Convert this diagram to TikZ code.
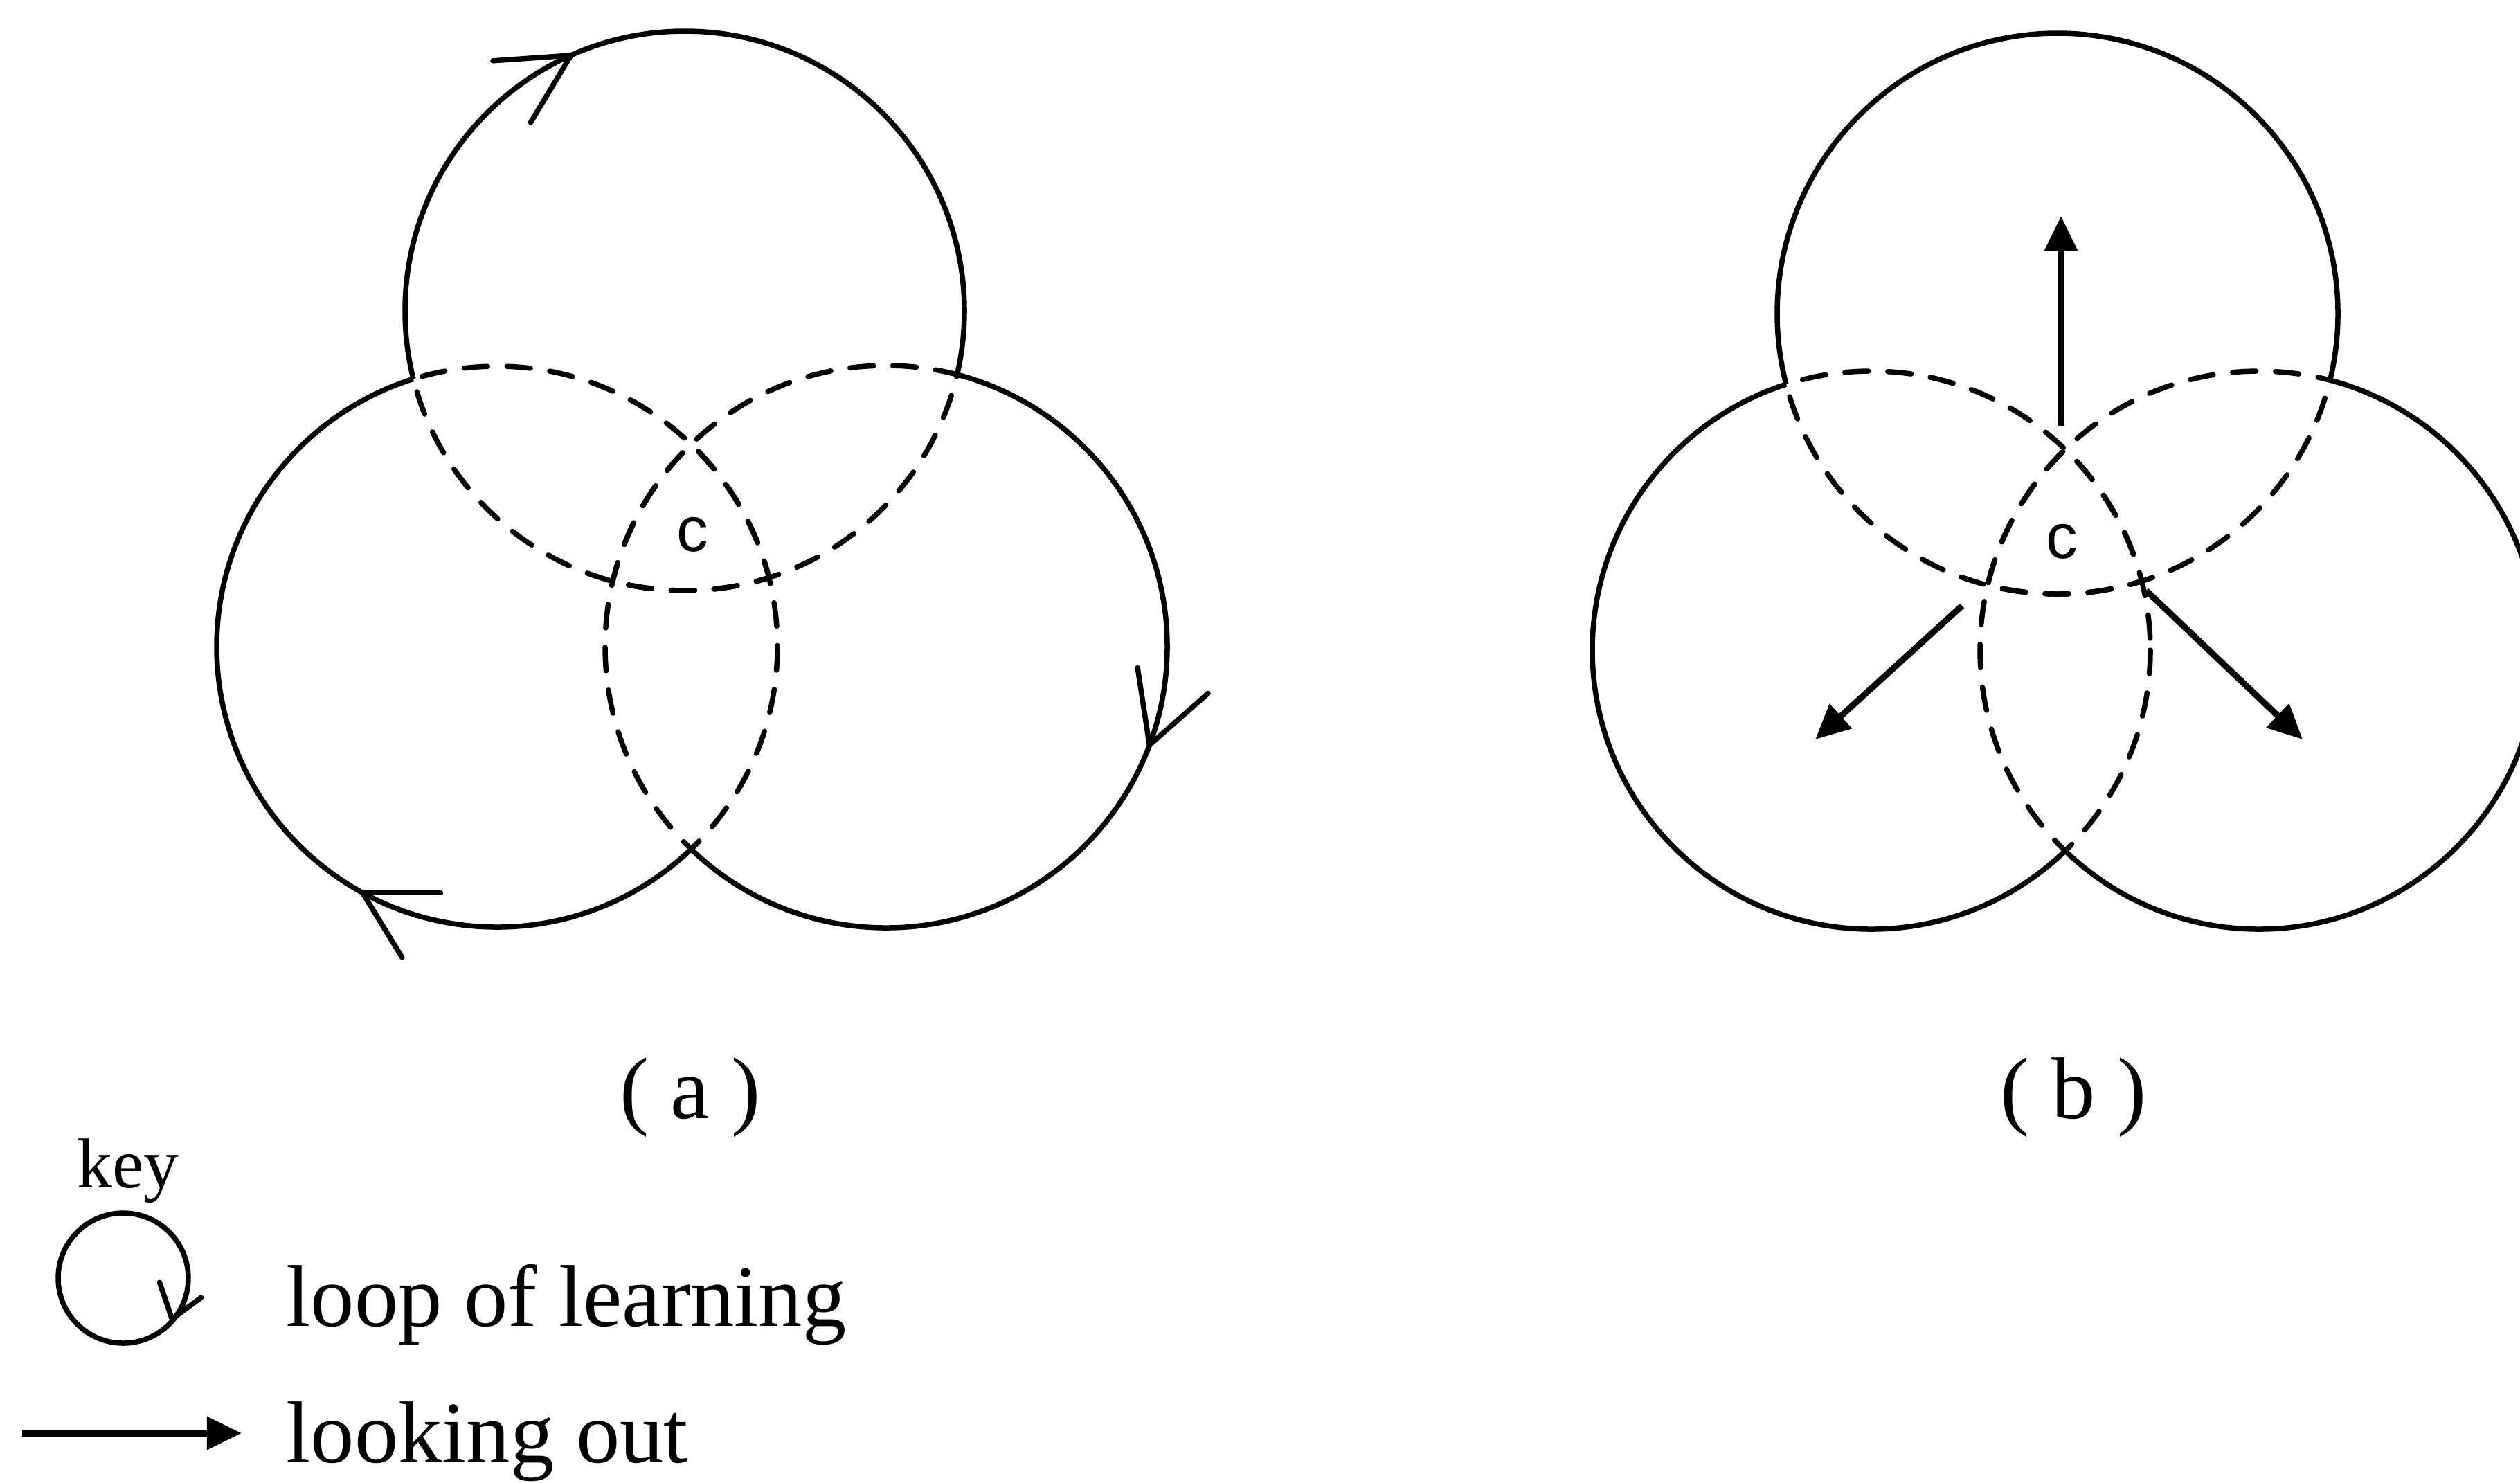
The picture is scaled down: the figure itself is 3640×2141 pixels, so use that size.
\documentclass[tikz,border=0pt]{standalone}
\usepackage{fontspec}
\setmainfont{Liberation Serif}
\newfontfamily\cfont{Liberation Sans}
\usetikzlibrary{arrows.meta}
\tikzset{
  ring/.style={line width=0.075cm},
  dsh/.style={line width=0.075cm, dash pattern=on 0.34cm off 0.28cm, line cap=round},
  barb/.style={line width=0.075cm, line cap=round},
  outarrow/.style={line width=0.09cm, -{Triangle[length=0.5cm,width=0.46cm]}},
  lbl/.style={font=\fontsize{36}{40}\selectfont, inner sep=0pt},
  keylbl/.style={font=\fontsize{29}{32}\selectfont, inner sep=0pt},
  clbl/.style={font=\cfont\fontsize{26}{30}\selectfont, inner sep=0pt},
}
% circle #1 (radius #2): dashed inside circles #3/#4 and #5/#6, solid elsewhere
\newcommand{\partcircle}[6]{%
  \begin{scope}\clip (#3) circle[radius=#4]; \draw[dsh] (#1) circle[radius=#2];\end{scope}
  \begin{scope}\clip (#5) circle[radius=#6]; \draw[dsh] (#1) circle[radius=#2];\end{scope}
  \begin{scope}[even odd rule]
    \clip (-200,-200) -- (-200,2400) -- (3900,2400) -- (3900,-200) -- cycle (#3) circle[radius=#4];
    \clip (-200,-200) -- (-200,2400) -- (3900,2400) -- (3900,-200) -- cycle (#5) circle[radius=#6];
    \draw[ring] (#1) circle[radius=#2];
  \end{scope}}
\begin{document}
\begin{tikzpicture}[x=0.01cm, y=-0.01cm]
\useasboundingbox (0,0) rectangle (3640,2141);

% ---------- panel (a) ----------
\coordinate (TA) at (989,449);
\coordinate (LA) at (718,934);
\coordinate (RA) at (1280,934);
\partcircle{TA}{404}{LA}{405}{RA}{406}
\partcircle{LA}{405}{TA}{404}{RA}{406}
\partcircle{RA}{406}{TA}{404}{LA}{405}

\path (TA) ++(-114:404) coordinate (pa1);
\draw[barb] (pa1) -- ++(176:113);
\draw[barb] (pa1) -- ++(121:113);
\path (RA) ++(20.5:406) coordinate (pa2);
\draw[barb] (pa2) -- ++(261.3:113);
\draw[barb] (pa2) -- ++(318.6:113);
\path (LA) ++(118.7:405) coordinate (pa3);
\draw[barb] (pa3) -- ++(0:113);
\draw[barb] (pa3) -- ++(58.5:110);

\node[clbl] (ca) at (1000,772) {c};
\node[lbl, anchor=base] (la) at (997,1615) {( a )};

% ---------- panel (b) ----------
\coordinate (TB) at (2972,453);
\coordinate (LB) at (2703,939);
\coordinate (RB) at (3263,939);
\partcircle{TB}{405}{LB}{403}{RB}{403}
\partcircle{LB}{403}{TB}{405}{RB}{403}
\partcircle{RB}{403}{TB}{405}{LB}{403}

\coordinate (u0) at (2977,615);
\coordinate (u1) at (2977,312);
\coordinate (l0) at (2834,875);
\coordinate (l1) at (2622,1068);
\coordinate (r0) at (3100,853);
\coordinate (r1) at (3326,1068);
\draw[outarrow] (u0) -- (u1);
\draw[outarrow] (l0) -- (l1);
\draw[outarrow] (r0) -- (r1);

\node[clbl] (cb) at (2978,782) {c};
\node[lbl, anchor=base] (lb) at (2995,1615) {( b )};

% ---------- key ----------
\node[keylbl, anchor=base west] (key) at (111,1715) {key};
\coordinate (KC) at (178,1846);
\draw[ring] (KC) circle[radius=94];
\path (KC) ++(40:92) coordinate (kt);
\draw[barb] (kt) -- ++(-18,-53);
\draw[barb] (kt) -- ++(42,-31);
\node[lbl, anchor=base west] (t1) at (413,1915) {loop of learning};

\coordinate (k0) at (32,2070);
\coordinate (k1) at (349,2070);
\draw[outarrow] (k0) -- (k1);
\node[lbl, anchor=base west] (t2) at (413,2112) {looking out};
\end{tikzpicture}
\end{document}
